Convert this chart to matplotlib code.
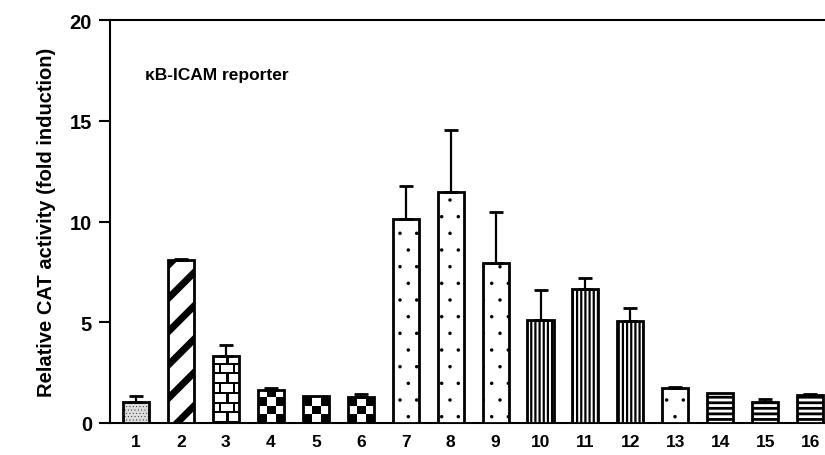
import numpy as np
import matplotlib
matplotlib.use("Agg")
import matplotlib.pyplot as plt

plt.rcParams['font.family'] = ['Liberation Sans', 'DejaVu Sans']

labels = [str(i) for i in range(1, 17)]
values = [1.05, 8.1, 3.3, 1.62, 1.35, 1.3, 10.1, 11.45, 7.95, 5.1, 6.65, 5.05, 1.72, 1.5, 1.02, 1.37]
errors = [0.3, 0.05, 0.55, 0.12, 0.0, 0.15, 1.65, 3.1, 2.5, 1.5, 0.55, 0.65, 0.08, 0.0, 0.15, 0.08]
styles = ['stipple', 'diag', 'brick', 'check', 'check', 'check', 'dots', 'dots', 'dots',
          'vert', 'vert', 'vert', 'dots', 'horiz', 'horiz', 'horiz']
annotation = "\u03baB-ICAM reporter"
ylabel = "Relative CAT activity (fold induction)"

fig = plt.figure(figsize=(8.25, 4.56), dpi=100)
ax = fig.add_axes([0.1333, 0.0702, 0.8667, 0.8837])

x = np.arange(len(values))
bw = 0.58
bars = ax.bar(x, values, width=bw, color='white', edgecolor='black', linewidth=2, zorder=3)

def set_hlw(p, lw):
    if hasattr(p, 'set_hatch_linewidth'):
        p.set_hatch_linewidth(lw)

for b, st in zip(bars, styles):
    x0, w, h = b.get_x(), b.get_width(), b.get_height()
    if st == 'stipple':
        b.set_facecolor('#dcdcdc')
        b.set_hatch('.....')
        set_hlw(b, 0.2)
    elif st == 'diag':
        b.set_hatch('/')
        set_hlw(b, 5.0)
    elif st == 'dots':
        b.set_hatch('.')
        set_hlw(b, 0.1)
    elif st == 'vert':
        b.set_hatch('||||')
        set_hlw(b, 1.6)
    elif st == 'horiz':
        b.set_hatch('---')
        set_hlw(b, 2.0)
    elif st == 'check':
        b.set_facecolor('none')
        nrow = int(np.ceil(h / 0.42))
        arr = np.indices((nrow, 3)).sum(axis=0) % 2
        im = ax.imshow(arr, extent=[x0, x0 + w, nrow * 0.42, 0], cmap='gray',
                       aspect='auto', interpolation='nearest', zorder=2.5, origin='upper')
        im.set_clip_path(b)
    elif st == 'brick':
        b.set_facecolor('none')
        rh = 10
        nrow = int(np.ceil(h / 0.48))
        W = 26
        arr = np.ones((nrow * rh, W))
        for r in range(nrow):
            arr[r * rh:r * rh + 2, :] = 0
            joints = [W // 2] if r % 2 == 0 else [W // 4, 3 * W // 4]
            for j in joints:
                arr[r * rh:(r + 1) * rh, j:j + 2] = 0
        im = ax.imshow(arr, extent=[x0, x0 + w, 0, nrow * 0.48], cmap='gray',
                       aspect='auto', interpolation='nearest', zorder=2.5, origin='lower')
        im.set_clip_path(b)

err = np.array(errors)
mask = err > 0
ax.errorbar(x[mask], np.array(values)[mask], yerr=[np.zeros(mask.sum()), err[mask]],
            fmt='none', ecolor='black', elinewidth=1.6, capsize=5, capthick=2, zorder=4)

ax.set_xlim(-0.58, 15.33)
ax.set_ylim(0, 20)
ax.set_yticks([0, 5, 10, 15, 20])
ax.set_xticks(x)
ax.set_xticklabels(labels)
ax.tick_params(axis='x', length=0, pad=8, labelsize=12.5)
ax.tick_params(axis='y', length=8, width=1.5, direction='out', pad=5, labelsize=14.5)
for lab in ax.get_xticklabels() + ax.get_yticklabels():
    lab.set_fontweight('bold')

for s in ['left', 'bottom', 'top']:
    ax.spines[s].set_linewidth(1.5)
ax.spines['right'].set_visible(False)

ax.text(0.2, 17.3, annotation, fontsize=12.5, fontweight='bold', va='center', ha='left')
ax.set_ylabel(ylabel, fontsize=14.5, fontweight='bold', labelpad=10)

fig.savefig('out.png', dpi=100)
